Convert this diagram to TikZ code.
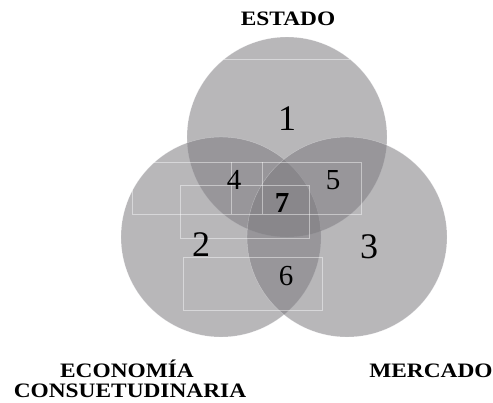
\documentclass[tikz,border=0pt]{standalone}
\usepackage{fontspec}
\setmainfont{Liberation Serif}
\definecolor{venn}{RGB}{125,123,128}
\tikzset{
  setcircle/.style={circle, inner sep=0pt, minimum size=200pt, fill=venn, fill opacity=0.55, draw=white, draw opacity=0.35, line width=0.4pt},
  boxline/.style={draw=white, draw opacity=0.45, line width=0.5pt},
  title/.style={font=\fontsize{20.5}{23}\selectfont\bfseries, inner sep=0pt, anchor=base},
  bignum/.style={font=\fontsize{36}{40}\selectfont, inner sep=0pt},
  smallnum/.style={font=\fontsize{29}{32}\selectfont, inner sep=0pt}
}
\begin{document}
\begin{tikzpicture}[x=1pt,y=-1pt]
\useasboundingbox (0,0) rectangle (493,402);
\node[setcircle] (estado) at (287,137) {};
\node[setcircle] (econ) at (221,237) {};
\node[setcircle] (merc) at (347,237) {};
% faint text-box outlines
\draw[boxline] (224,59) -- (350,59);
\draw[boxline] (132,162) rectangle (361,214);
\draw[boxline] (231,162) -- (231,214);
\draw[boxline] (262,162) -- (262,214);
\draw[boxline] (180,185) rectangle (309,238);
\draw[boxline] (183,257) rectangle (322,310);
% region numbers
\node[bignum] (n1) at (287,119) {1};
\node[bignum] (n2) at (201,245) {2};
\node[bignum] (n3) at (369,247) {3};
\node[smallnum] (n4) at (234,180) {4};
\node[smallnum] (n5) at (333,180) {5};
\node[smallnum, font=\fontsize{29}{32}\selectfont\bfseries] (n7) at (282,203) {7};
\node[smallnum] (n6) at (286,276) {6};
% set titles
\node[title] (testado) at (288,25.7) {\scalebox{1.14}[1]{ESTADO}};
\node[title] (tecon1) at (127,377) {\scalebox{1.14}[1]{ECONOMÍA}};
\node[title] (tecon2) at (130,397.5) {\scalebox{1.14}[1]{CONSUETUDINARIA}};
\node[title] (tmerc) at (431,377) {\scalebox{1.14}[1]{MERCADO}};
\end{tikzpicture}
\end{document}
